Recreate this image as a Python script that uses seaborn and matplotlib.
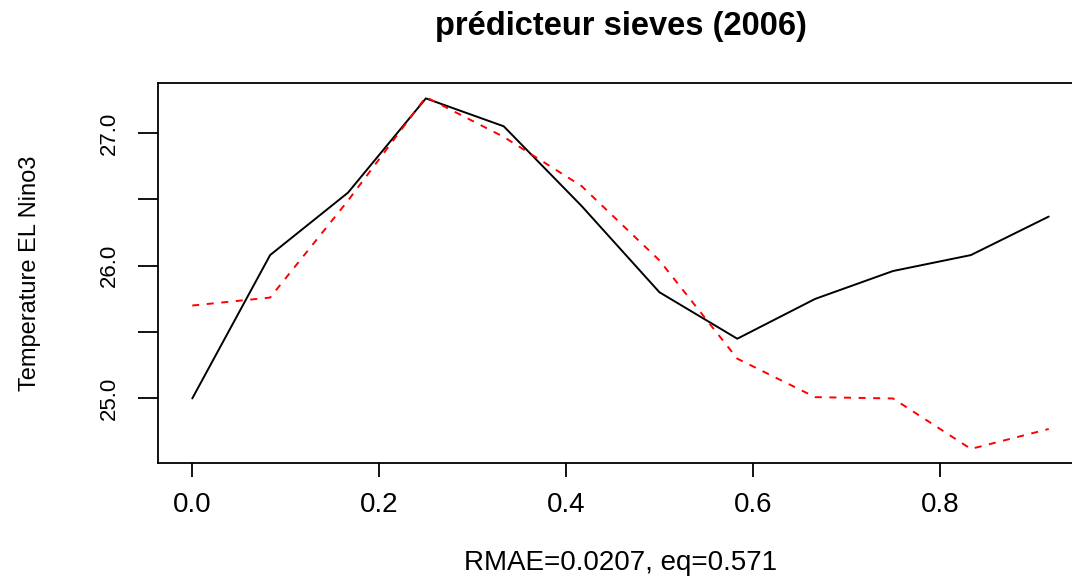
import numpy as np
import pandas as pd
import matplotlib
matplotlib.use("Agg")
import matplotlib.pyplot as plt
import seaborn as sns

months = [i / 12 for i in range(12)]
observed = [25.00, 26.08, 26.55, 27.26, 27.05, 26.45, 25.80, 25.45, 25.75, 25.96, 26.08, 26.37]
predicted = [25.70, 25.76, 26.49, 27.27, 26.97, 26.60, 26.04, 25.30, 25.01, 25.00, 24.62, 24.77]
x_ticks = [0.0, 0.2, 0.4, 0.6, 0.8]
x_tick_labels = ["0.0", "0.2", "0.4", "0.6", "0.8"]
y_ticks = [25.0, 25.5, 26.0, 26.5, 27.0]
y_tick_labels = ["25.0", "", "26.0", "", "27.0"]

sns.set_style("white")
plt.rcParams['font.family'] = ['Liberation Sans', 'DejaVu Sans']
plt.rcParams.update({"text.color": "black", "axes.labelcolor": "black",
                     "xtick.color": "black", "ytick.color": "black"})

df = pd.DataFrame({"x": months, "observed": observed, "predicted": predicted})

fig = plt.figure(figsize=(10.72, 5.79), dpi=100)
ax = fig.add_axes([158/1072, 1 - 463/579, (1083 - 158)/1072, (463 - 83)/579])

sns.lineplot(data=df, x="x", y="observed", ax=ax, color="black", lw=1.4)
sns.lineplot(data=df, x="x", y="predicted", ax=ax, color="red", lw=1.4,
             linestyle=(0, (3.6, 3.9)))

xr = max(months) - min(months)
ax.set_xlim(min(months) - 0.04 * xr, max(months) + 0.04 * xr)
allv = observed + predicted
yr = max(allv) - min(allv)
ax.set_ylim(min(allv) - 0.04 * yr, max(allv) + 0.04 * yr)

ax.set_xticks(x_ticks)
ax.set_xticklabels(x_tick_labels, fontsize=20)
ax.set_yticks(y_ticks)
ax.set_yticklabels(y_tick_labels, fontsize=16, rotation=90, va="center")
ax.tick_params(axis="x", direction="out", length=10, width=1.3, pad=11,
               bottom=True, top=False)
ax.tick_params(axis="y", direction="out", length=14.4, width=1.3, pad=13,
               left=True, right=False)
for s in ax.spines.values():
    s.set_visible(True)
    s.set_color("black")
    s.set_linewidth(1.3)

ax.set_xlabel("RMAE=0.0207, eq=0.571", fontsize=20, va="center")
ax.xaxis.set_label_coords(0.5, (463 - 563) / 380)
ax.set_ylabel("Temperature EL Nino3", fontsize=17, va="center")
ax.yaxis.set_label_coords((30 - 158) / 925, 0.5)
ax.set_title("prédicteur sieves (2006)", fontsize=23.5, fontweight="bold",
             y=1 + (83 - 27) / 380, va="center", pad=0)

fig.savefig("out.png", dpi=100)
